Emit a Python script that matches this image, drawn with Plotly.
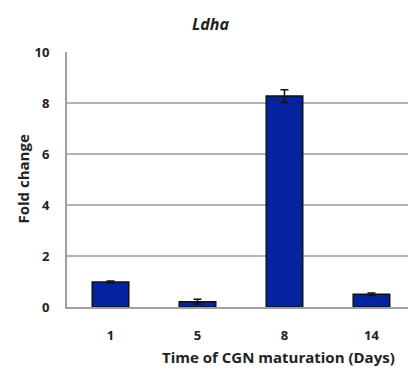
import plotly.graph_objects as go

days = ["1", "5", "8", "14"]
fold_change = [0.98, 0.21, 8.27, 0.50]
errors = [0.04, 0.09, 0.25, 0.05]
y_ticks = [0, 2, 4, 6, 8, 10]

FONT = "Open Sans"

fig = go.Figure()
fig.add_trace(go.Bar(
    x=days, y=fold_change,
    marker=dict(color="#0522A0", line=dict(color="#111111", width=1.5)),
    error_y=dict(type="data", array=errors, color="#111111", thickness=1.5, width=4),
    width=0.42,
))

def px_x(x):
    return (x - 67) / 341

def px_y(y):
    return (307 - y) / 255

fig.update_layout(
    width=408, height=374,
    margin=dict(l=67, r=0, t=52, b=67),
    paper_bgcolor="white", plot_bgcolor="white",
    showlegend=False,
    font=dict(family=FONT, color="#222222"),
    xaxis=dict(
        type="category", range=[-0.5, 3.42],
        showgrid=False, showline=True, linecolor="#a0a0a0", linewidth=2,
        tickfont=dict(size=13, family=FONT, weight="bold"),
        ticks="", ticklabelstandoff=15,
    ),
    yaxis=dict(
        range=[0, 10], tickvals=y_ticks,
        showgrid=True, gridcolor="#b4b4b4", gridwidth=1.5,
        showline=True, linecolor="#a0a0a0", linewidth=2,
        zeroline=False,
        tickfont=dict(size=13, family=FONT, weight="bold"),
        ticks="", ticklabelstandoff=13,
    ),
    annotations=[
        dict(text="<i>Ldha</i>", x=px_x(210), y=px_y(24), xref="paper", yref="paper",
             xanchor="center", yanchor="middle",
             showarrow=False, font=dict(size=16, family=FONT, weight="bold")),
        dict(text="Time of CGN maturation (Days)", x=px_x(278), y=px_y(357),
             xref="paper", yref="paper", xanchor="center", yanchor="middle",
             showarrow=False,
             font=dict(size=15, family=FONT, weight="bold")),
        dict(text="Fold change", x=px_x(22), y=0.5, xref="paper", yref="paper",
             xanchor="center", yanchor="middle",
             textangle=-90, showarrow=False,
             font=dict(size=15, family=FONT, weight="bold")),
    ],
)

fig.write_html("out.html")
